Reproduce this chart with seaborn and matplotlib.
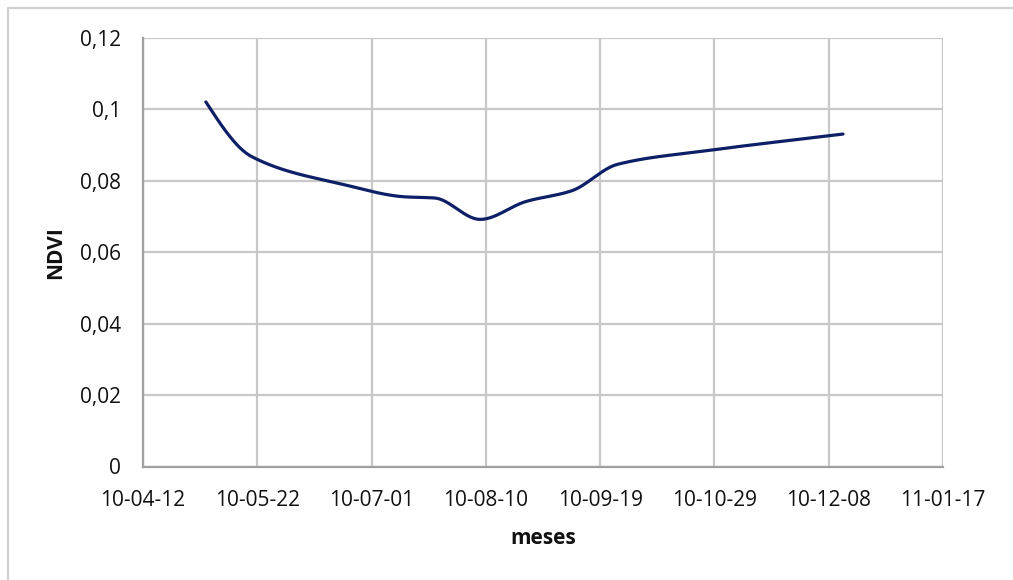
import numpy as np
import pandas as pd
import matplotlib
matplotlib.use("Agg")
import matplotlib.pyplot as plt
import matplotlib.dates as mdates
from matplotlib.lines import Line2D
from matplotlib.ticker import FuncFormatter
import seaborn as sns

# NDVI observations
fechas = ["2010-05-04", "2010-05-20", "2010-06-21", "2010-07-13", "2010-07-23",
          "2010-08-08", "2010-08-24", "2010-09-09", "2010-09-25", "2010-10-27",
          "2010-12-13"]
ndvi = [0.1021, 0.0868, 0.0790, 0.0755, 0.0752, 0.0692, 0.0742, 0.0772, 0.0846,
        0.0885, 0.0931]

x_ticks = ["2010-04-12", "2010-05-22", "2010-07-01", "2010-08-10", "2010-09-19",
           "2010-10-29", "2010-12-08", "2011-01-17"]
y_ticks = [0, 0.02, 0.04, 0.06, 0.08, 0.10, 0.12]


def smooth_curve(x, y, n=80):
    """Shape-preserving cubic Hermite curve through every observation."""
    x = np.asarray(x, float)
    y = np.asarray(y, float)
    h = np.diff(x)
    delta = np.diff(y) / h
    m = np.zeros_like(y)
    for k in range(1, len(x) - 1):
        if delta[k - 1] * delta[k] > 0:
            w1 = 2 * h[k] + h[k - 1]
            w2 = h[k] + 2 * h[k - 1]
            m[k] = (w1 + w2) / (w1 / delta[k - 1] + w2 / delta[k])
    m[0] = delta[0] * 1.5 - m[1] * 0.5
    m[-1] = delta[-1]
    xs, ys = [], []
    for k in range(len(x) - 1):
        t = np.linspace(0, 1, n)
        if k > 0:
            t = t[1:]
        h00 = 2 * t**3 - 3 * t**2 + 1
        h10 = t**3 - 2 * t**2 + t
        h01 = -2 * t**3 + 3 * t**2
        h11 = t**3 - t**2
        xs.append(x[k] + t * h[k])
        ys.append(h00 * y[k] + h10 * h[k] * m[k] + h01 * y[k + 1] + h11 * h[k] * m[k + 1])
    return np.concatenate(xs), np.concatenate(ys)


dnum = mdates.date2num(pd.to_datetime(fechas))
sx, sy = smooth_curve(dnum, ndvi)
curve = pd.DataFrame({"fecha": mdates.num2date(sx), "NDVI": sy})
curve["fecha"] = pd.to_datetime(curve["fecha"]).dt.tz_localize(None)

sns.set_theme(style="white")
plt.rcParams["font.family"] = ["Open Sans", "DejaVu Sans"]

fig = plt.figure(figsize=(10.13, 5.80), dpi=100)
ax = fig.add_axes([143 / 1013, 1 - 466.5 / 580, 800 / 1013, 428.5 / 580])

sns.lineplot(data=curve, x="fecha", y="NDVI", sort=False, estimator=None,
             color="#0d1f66", linewidth=2.3, ax=ax, zorder=3)

tick_dates = pd.to_datetime(x_ticks)
ax.set_xlim(tick_dates[0], tick_dates[-1])
ax.set_xticks(tick_dates)
ax.xaxis.set_major_formatter(mdates.DateFormatter("%y-%m-%d"))
ax.set_ylim(0, 0.12)
ax.set_yticks(y_ticks)
ax.yaxis.set_major_formatter(FuncFormatter(lambda v, _: "0" if v == 0 else f"{v:.2f}".rstrip("0").replace(".", ",")))

ax.grid(True, color="#c8c8c8", linewidth=1.6)
ax.set_axisbelow(True)
for side in ["top", "right"]:
    ax.spines[side].set_visible(False)
for side in ["left", "bottom"]:
    ax.spines[side].set_color("#a0a0a0")
    ax.spines[side].set_linewidth(1.6)

ax.tick_params(axis="both", length=0, labelsize=15, colors="#111111")
ax.tick_params(axis="x", pad=17)
ax.tick_params(axis="y", pad=16)

ax.set_xlabel("meses", fontsize=15, fontweight="bold", color="#111111", labelpad=12)
ax.set_ylabel("NDVI", fontsize=15, fontweight="bold", color="#111111", labelpad=10)

# chart-area frame
fig.add_artist(Line2D([8 / 1013, 1.0], [1 - 8 / 580, 1 - 8 / 580], transform=fig.transFigure,
                      color="#d0d0d0", linewidth=1.6))
fig.add_artist(Line2D([8 / 1013, 8 / 1013], [0, 1 - 8 / 580], transform=fig.transFigure,
                      color="#d0d0d0", linewidth=1.6))

fig.savefig("out.png", dpi=100, facecolor="white")
